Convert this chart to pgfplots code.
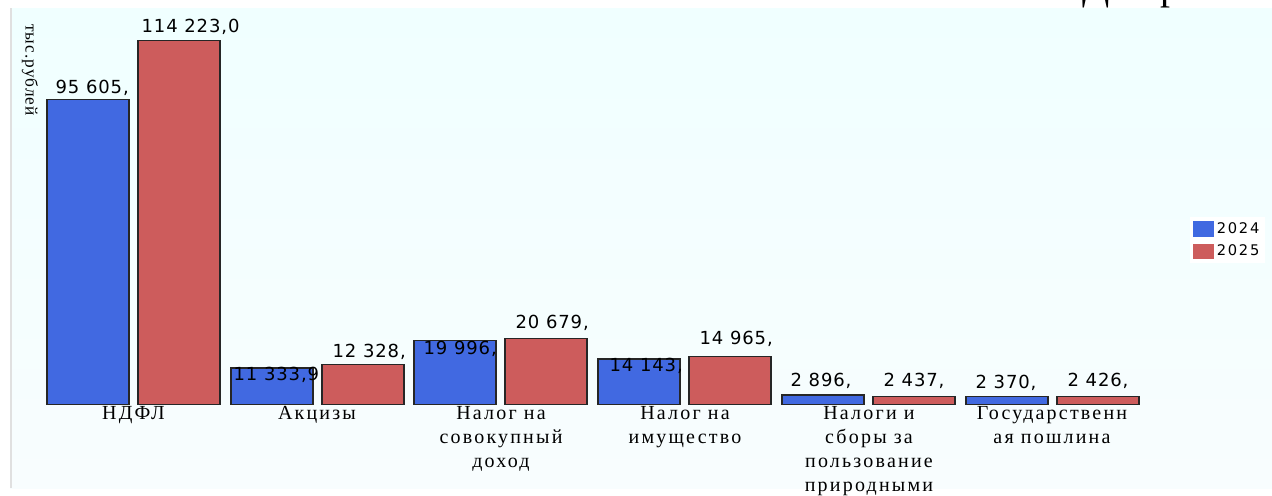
\documentclass[border=0pt]{standalone}
\usepackage{fontspec}
\setmainfont{Liberation Serif}
\newfontfamily\valfont[LetterSpace=5]{DejaVu Sans}
\newfontfamily\legfont[LetterSpace=12]{DejaVu Sans}
\newfontfamily\catfont[LetterSpace=11]{Liberation Serif}
\newfontfamily\ylfont[LetterSpace=6]{Liberation Serif}
\usepackage{pgfplots}
\usepackage{pgfplotstable}
\pgfplotsset{compat=1.18}
\definecolor{cblue}{RGB}{65,105,225}
\definecolor{cred}{RGB}{205,92,92}
\definecolor{bgtop}{RGB}{240,255,255}
\definecolor{bgbot}{RGB}{248,253,254}

\pgfplotstableread[col sep=semicolon]{
x;y;lab;dx;dy
88;95605.0;95 605,;-33;12
272;11333.9;11 333,9;-39;-7
455;19996.0;19 996,;-32;-8
639;14143.0;14 143,;-30;-7
823;2896.0;2 896,;-33;14
1007;2370.0;2 370,;-32;14
}\bluedata

\pgfplotstableread[col sep=semicolon]{
x;y;lab;dx;dy
179;114223.0;114 223,0;-38;13
363;12328.0;12 328,;-31;13
546;20679.0;20 679,;-31;15
730;14965.0;14 965,;-31;18
914;2437.0;2 437,;-31;16
1098;2426.0;2 426,;-31;16
}\reddata

\begin{document}
\begin{tikzpicture}
\begin{scope}[x=0.75pt,y=-0.75pt,yshift=303pt]
\path[use as bounding box] (0,0) rectangle (1272,488);
\fill[white] (0,0) rectangle (1272,488);
\shade[top color=bgtop, bottom color=bgbot] (10,8) rectangle (1272,488);
\draw[black!12, line width=1.2pt] (11,8) -- (11,488);
\node[rotate=-90, font=\ylfont\fontsize{13}{14}\selectfont] at (30,70) {тыс.рублей};
\node[anchor=base west, inner sep=0pt, font=\fontsize{30}{30}\selectfont] at (1082,-1) {Д};
\node[anchor=base west, inner sep=0pt, font=\fontsize{30}{30}\selectfont] at (1160,-1) {р};
\end{scope}
\begin{axis}[
  at={(0,0)}, anchor=south west,
  scale only axis, width=954pt, height=303pt,
  xmin=0, xmax=1272, ymin=0, ymax=126775.6,
  clip=false,
  axis line style={draw=none},
  ytick=\empty,
  xtick={133.5,317,501,685,869,1052},
  xticklabels={{НДФЛ},{Акцизы},{Налог на\\совокупный\\доход},{Налог на\\имущество},{Налоги и\\сборы за\\пользование\\природными},{Государственн\\ая пошлина}},
  major tick length=0pt,
  xticklabel style={font=\catfont\fontsize{15}{18}\selectfont, align=center, inner sep=0pt, yshift=-1.5pt},
  ybar,
  bar width=61.5pt,
  point meta=explicit symbolic,
  nodes near coords,
  nodes near coords style={font=\valfont\fontsize{13.5}{15}\selectfont, anchor=west, inner sep=0pt, xshift=\dx*0.75pt, yshift=\dy*0.75pt},
  legend style={at={(0.9355,0.406)}, anchor=west, draw=none, fill=white, font=\legfont\fontsize{11}{12}\selectfont, inner sep=2pt, row sep=3pt, /tikz/every even column/.style={column sep=5pt}},
  legend cell align=left,
]
\addplot[fill=cblue, draw=black!85, line width=0.9pt, bar shift=0pt,
  visualization depends on={\thisrow{dx}\as\dx},
  visualization depends on={\thisrow{dy}\as\dy},
  legend image code/.code={\fill[cblue] (0pt,-5.25pt) rectangle (15pt,5.25pt);}]
  table[x=x, y=y, meta=lab]{\bluedata};
\addplot[fill=cred, draw=black!85, line width=0.9pt, bar shift=0pt,
  visualization depends on={\thisrow{dx}\as\dx},
  visualization depends on={\thisrow{dy}\as\dy},
  legend image code/.code={\fill[cred] (0pt,-5.25pt) rectangle (15pt,5.25pt);}]
  table[x=x, y=y, meta=lab]{\reddata};
\legend{2024,2025}
\end{axis}
\end{tikzpicture}
\end{document}
